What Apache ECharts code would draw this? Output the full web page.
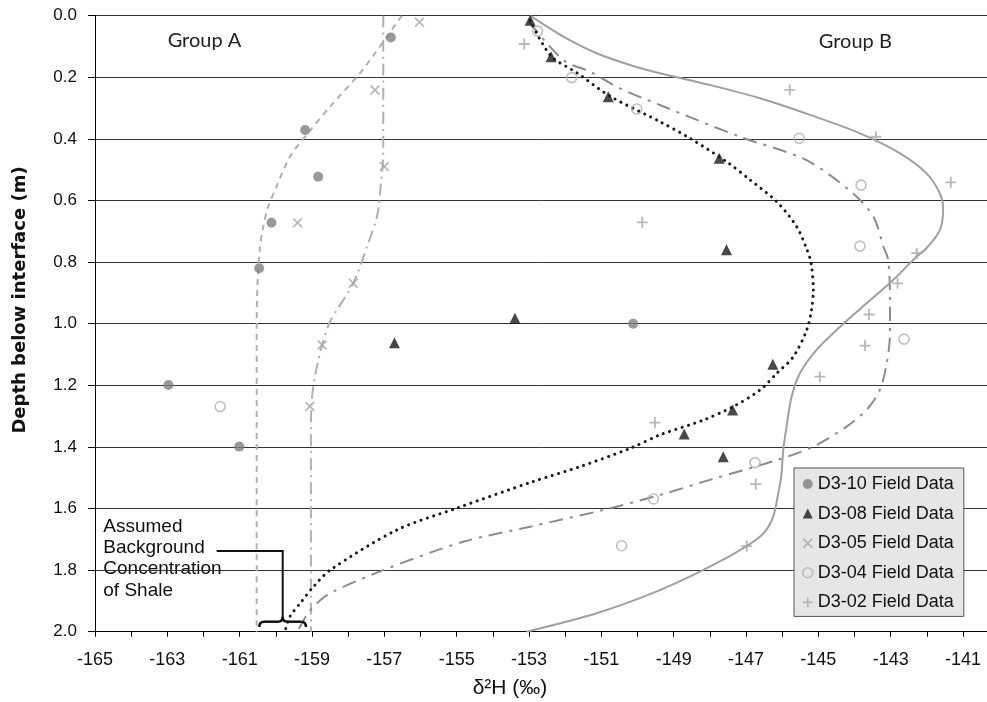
<!DOCTYPE html>
<html><head><meta charset="utf-8">
<script src="https://cdn.jsdelivr.net/npm/echarts@6/dist/echarts.min.js"></script>
<style>html,body{margin:0;padding:0;background:#fff}#c{width:987px;height:702px}</style>
</head><body><div id="c"></div>
<script>
// ---- data: [δ2H, depth] ----
const d310Data = [[-156.82,0.071],[-159.19,0.371],[-158.83,0.523],[-160.12,0.672],[-160.46,0.820],[-150.12,1.0],[-162.97,1.199],[-161.01,1.399]];
const d308Data = [[-152.97,0.015],[-152.39,0.133],[-150.81,0.263],[-147.74,0.463],[-147.54,0.76],[-153.39,0.982],[-156.72,1.062],[-146.26,1.132],[-147.37,1.280],[-148.71,1.358],[-147.63,1.432]];
const d305Data = [[-156.03,0.021],[-157.26,0.241],[-157.0,0.490],[-159.40,0.672],[-157.86,0.869],[-158.72,1.069],[-159.06,1.269]];
const d304Data = [[-152.76,0.050],[-151.82,0.201],[-150.02,0.303],[-145.53,0.398],[-143.82,0.550],[-143.85,0.748],[-142.63,1.050],[-161.54,1.269],[-146.75,1.451],[-149.56,1.569],[-150.44,1.721]];
const d302Data = [[-153.13,0.092],[-145.79,0.241],[-143.41,0.393],[-141.34,0.541],[-149.87,0.671],[-142.28,0.771],[-142.81,0.869],[-143.60,0.970],[-143.71,1.071],[-144.96,1.172],[-149.52,1.321],[-146.73,1.521],[-146.98,1.722]];

// fitted profiles
const d310Fit = [[-156.52,0],[-156.94,0.07],[-157.65,0.183],[-158.5,0.295],[-159.1,0.38],[-159.61,0.458],[-159.98,0.555],[-160.21,0.62],[-160.35,0.685],[-160.44,0.755],[-160.5,0.85],[-160.53,1.0],[-160.53,2.0]];
const d305Fit = [[-157.03,0],[-157.03,0.45],[-157.1,0.55],[-157.2,0.65],[-157.45,0.74],[-157.86,0.869],[-158.5,0.993],[-158.72,1.069],[-158.92,1.172],[-159.02,1.27],[-159.03,1.4],[-159.03,2.0]];
const d308Fit = [[-152.97,0.015],[-152.4,0.13],[-151.68,0.185],[-150.75,0.262],[-149.38,0.344],[-148.55,0.398],[-147.54,0.474],[-146.89,0.533],[-146.15,0.604],[-145.6,0.685],[-145.33,0.755],[-145.2,0.804],[-145.14,0.891],[-145.19,0.955],[-145.32,1.02],[-145.69,1.107],[-146.15,1.161],[-146.61,1.215],[-147.35,1.269],[-148.18,1.313],[-149.38,1.361],[-150.21,1.405],[-151.59,1.464],[-152.9,1.513],[-155.0,1.599],[-156.66,1.67],[-158.5,1.8],[-158.96,1.854],[-159.33,1.908],[-159.61,1.951],[-159.75,2.0]];
const d304Fit = [[-153.0,0.02],[-152.05,0.144],[-151.31,0.182],[-150.48,0.236],[-149.38,0.29],[-147.17,0.393],[-145.33,0.469],[-144.04,0.577],[-143.48,0.652],[-143.2,0.75],[-143.07,0.793],[-143.02,0.923],[-143.02,1.031],[-143.11,1.129],[-143.3,1.215],[-143.67,1.28],[-144.22,1.334],[-145.14,1.399],[-146.15,1.443],[-148.0,1.507],[-149.38,1.556],[-150.95,1.605],[-152.97,1.659],[-154.82,1.708],[-157.03,1.8],[-158.5,1.875],[-158.87,1.908],[-159.15,1.946],[-159.4,2.0]];
const d302Fit = [[-152.97,0.0],[-152.05,0.068],[-151.13,0.122],[-150.21,0.16],[-149.38,0.187],[-148.0,0.225],[-146.61,0.268],[-145.23,0.322],[-143.85,0.382],[-142.74,0.447],[-142.01,0.512],[-141.64,0.577],[-141.55,0.625],[-141.64,0.696],[-142.01,0.755],[-142.28,0.782],[-142.93,0.858],[-143.67,0.934],[-144.4,1.01],[-145.05,1.085],[-145.51,1.161],[-145.74,1.237],[-145.88,1.334],[-145.97,1.41],[-146.03,1.5],[-146.11,1.551],[-146.25,1.627],[-146.52,1.681],[-146.98,1.722],[-148.0,1.789],[-149.38,1.865],[-151.13,1.94],[-153.07,2.0]];

const seriesNames = ['D3-10 Field Data','D3-08 Field Data','D3-05 Field Data','D3-04 Field Data','D3-02 Field Data'];
const xLabelValues = [-165,-163,-161,-159,-157,-155,-153,-151,-149,-147,-145,-143,-141];

const xPath = 'path://M1.5,0L6,4.5L10.5,0L12,1.5L7.5,6L12,10.5L10.5,12L6,7.5L1.5,12L0,10.5L4.5,6L0,1.5Z';
const plusPath = 'path://M5,0H7V5H12V7H7V12H5V7H0V5H5Z';
const FONT = '"Liberation Sans", Arial, sans-serif';

const chart = echarts.init(document.getElementById('c'), null, {renderer:'canvas'});

function fitLine(data, color, width, type, cap) {
  return {type:'line', data:data, symbol:'none', showSymbol:false, silent:true, smooth:0.3,
    lineStyle:{color:color, width:width, type:type, cap:cap||'butt'}, z:2};
}
const braceStyle = {stroke:'#111', lineWidth:2.5, fill:null};

chart.setOption({
  animation:false,
  backgroundColor:'#fff',
  grid:{left:95, top:15.7, right:-12.2, bottom:70.3, containLabel:false, outerBoundsMode:'none'},
  xAxis:{type:'value', min:-165, max:-140, interval:1,
    axisLine:{show:true, onZero:false, lineStyle:{color:'#000', width:1}},
    axisTick:{show:true, length:5, lineStyle:{color:'#000'}},
    axisLabel:{fontSize:18, fontFamily:FONT, color:'#111', margin:19,
      formatter:function(v){ const r=Math.round(v); return xLabelValues.indexOf(r)>=0 ? String(r) : ''; }},
    splitLine:{show:false}},
  yAxis:{type:'value', inverse:true, min:0, max:2, interval:0.2,
    axisLine:{show:true, onZero:false, lineStyle:{color:'#000', width:1}},
    axisTick:{show:true, length:7, lineStyle:{color:'#000'}},
    axisLabel:{fontSize:17, fontFamily:FONT, color:'#111', margin:18, formatter:function(v){return v.toFixed(1);}},
    splitLine:{show:true, lineStyle:{color:'#333', width:1}}},
  legend:{orient:'vertical', left:794, top:468, padding:[7,10,5,8], itemGap:11.6, itemWidth:10, itemHeight:10,
    backgroundColor:'#e6e6e6', borderColor:'#555', borderWidth:1, selectedMode:false,
    textStyle:{fontSize:18, fontFamily:FONT, color:'#111', lineHeight:18},
    data:[
      {name:seriesNames[0], icon:'circle', itemStyle:{color:'#808080'}},
      {name:seriesNames[1], icon:'triangle', itemStyle:{color:'#1a1a1a'}},
      {name:seriesNames[2], icon:xPath, itemStyle:{color:'#a6a6a6'}},
      {name:seriesNames[3], icon:'circle', itemStyle:{color:'rgba(0,0,0,0)', borderColor:'#b0b0b0', borderWidth:1.5}},
      {name:seriesNames[4], icon:plusPath, itemStyle:{color:'#a6a6a6'}}
    ]},
  graphic:[
    {type:'text', x:204.5, y:41, style:{text:'Group A', fontSize:20, fontFamily:'Lato, "Open Sans", sans-serif', fill:'#222', align:'center', verticalAlign:'middle'}},
    {type:'text', x:855.3, y:41.5, style:{text:'Group B', fontSize:20, fontFamily:'Lato, "Open Sans", sans-serif', fill:'#222', align:'center', verticalAlign:'middle'}},
    {type:'text', x:103.3, y:516, style:{text:'Assumed\nBackground\nConcentration\nof Shale', fontSize:19, fontFamily:FONT, lineHeight:21.3, fill:'#111', align:'left', verticalAlign:'top'}},
    {type:'polyline', shape:{points:[[216.7,551],[282.7,551],[282.7,617]]}, style:{stroke:'#111', lineWidth:2, fill:null}, z:10},
    {type:'bezierCurve', shape:{x1:259.3,y1:627,cpx1:259.3,cpy1:621.7,x2:264,y2:621.7}, style:braceStyle, z:10},
    {type:'line', shape:{x1:264,y1:621.7,x2:278,y2:621.7}, style:braceStyle, z:10},
    {type:'bezierCurve', shape:{x1:278,y1:621.7,cpx1:282.7,cpy1:621.7,x2:282.7,y2:616.7}, style:braceStyle, z:10},
    {type:'bezierCurve', shape:{x1:282.7,y1:616.7,cpx1:282.7,cpy1:621.7,x2:287.4,y2:621.7}, style:braceStyle, z:10},
    {type:'line', shape:{x1:287.4,y1:621.7,x2:301.3,y2:621.7}, style:braceStyle, z:10},
    {type:'bezierCurve', shape:{x1:301.3,y1:621.7,cpx1:306,cpy1:621.7,x2:306,y2:627}, style:braceStyle, z:10},
    {type:'text', x:20.5, y:300, rotation:Math.PI/2, style:{text:'Depth below interface (m)', fontSize:18, fontWeight:'bold', fontFamily:'"DejaVu Sans", sans-serif', fill:'#111', align:'center', verticalAlign:'middle'}},
    {type:'text', x:510, y:688, style:{text:'δ²H (‰)', fontSize:21, fontFamily:FONT, fill:'#111', align:'center', verticalAlign:'middle'}}
  ],
  series:[
    fitLine(d310Fit, '#b0b0b0', 2, [6,5]),
    fitLine(d305Fit, '#b0b0b0', 2, [12,5,2,5]),
    fitLine(d304Fit, '#8c8c8c', 2, [14,7,3,7]),
    fitLine(d302Fit, '#a0a0a0', 2, 'solid'),
    fitLine(d308Fit, '#1a1a1a', 3, [0.1,6.5], 'round'),
    {name:seriesNames[0], type:'scatter', data:d310Data, symbol:'circle', symbolSize:10, itemStyle:{color:'#808080'}, z:5},
    {name:seriesNames[1], type:'scatter', data:d308Data, symbol:'triangle', symbolSize:11, itemStyle:{color:'#1a1a1a'}, z:5},
    {name:seriesNames[2], type:'scatter', data:d305Data, symbol:xPath, symbolSize:10, itemStyle:{color:'#a6a6a6'}, z:5},
    {name:seriesNames[3], type:'scatter', data:d304Data, symbol:'circle', symbolSize:10, itemStyle:{color:'rgba(255,255,255,0)', borderColor:'#b0b0b0', borderWidth:1.6}, z:5},
    {name:seriesNames[4], type:'scatter', data:d302Data, symbol:plusPath, symbolSize:11, itemStyle:{color:'#a6a6a6'}, z:5}
  ]
});
</script>
</body></html>
